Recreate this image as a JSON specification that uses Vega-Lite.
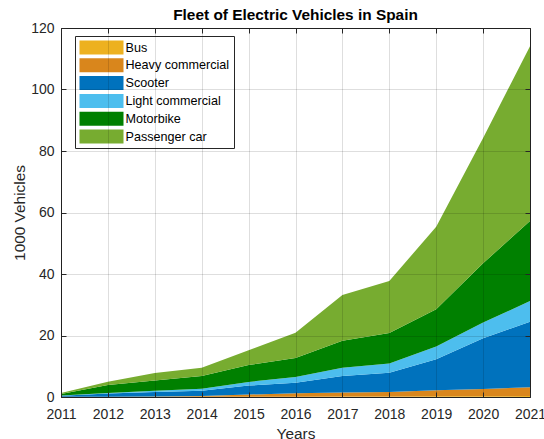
{
  "$schema": "https://vega.github.io/schema/vega-lite/v6.json",
  "width": 469,
  "height": 369,
  "autosize": "none",
  "padding": {"left": 61, "top": 28, "right": 14, "bottom": 42},
  "background": "white",
  "title": {"text": "Fleet of Electric Vehicles in Spain", "font": "Liberation Sans", "fontSize": 15.4, "fontWeight": "bold", "color": "#000000", "offset": -17, "baseline": "bottom"},
  "config": {
    "view": {"stroke": "#262626", "strokeWidth": 1},
    "font": "Liberation Sans"
  },
  "data": {"values": [
    {"year": 2011, "type": "Bus", "v": 0.02}, {"year": 2012, "type": "Bus", "v": 0.03}, {"year": 2013, "type": "Bus", "v": 0.05}, {"year": 2014, "type": "Bus", "v": 0.07}, {"year": 2015, "type": "Bus", "v": 0.1}, {"year": 2016, "type": "Bus", "v": 0.12}, {"year": 2017, "type": "Bus", "v": 0.15}, {"year": 2018, "type": "Bus", "v": 0.18}, {"year": 2019, "type": "Bus", "v": 0.22}, {"year": 2020, "type": "Bus", "v": 0.26}, {"year": 2021, "type": "Bus", "v": 0.3},
    {"year": 2011, "type": "Heavy commercial", "v": 0.03}, {"year": 2012, "type": "Heavy commercial", "v": 0.07}, {"year": 2013, "type": "Heavy commercial", "v": 0.1}, {"year": 2014, "type": "Heavy commercial", "v": 0.23}, {"year": 2015, "type": "Heavy commercial", "v": 0.7}, {"year": 2016, "type": "Heavy commercial", "v": 1.08}, {"year": 2017, "type": "Heavy commercial", "v": 1.35}, {"year": 2018, "type": "Heavy commercial", "v": 1.42}, {"year": 2019, "type": "Heavy commercial", "v": 1.98}, {"year": 2020, "type": "Heavy commercial", "v": 2.34}, {"year": 2021, "type": "Heavy commercial", "v": 2.9},
    {"year": 2011, "type": "Scooter", "v": 0.35}, {"year": 2012, "type": "Scooter", "v": 1.0}, {"year": 2013, "type": "Scooter", "v": 1.45}, {"year": 2014, "type": "Scooter", "v": 1.7}, {"year": 2015, "type": "Scooter", "v": 2.9}, {"year": 2016, "type": "Scooter", "v": 3.4}, {"year": 2017, "type": "Scooter", "v": 5.3}, {"year": 2018, "type": "Scooter", "v": 6.3}, {"year": 2019, "type": "Scooter", "v": 10.1}, {"year": 2020, "type": "Scooter", "v": 16.5}, {"year": 2021, "type": "Scooter", "v": 21.3},
    {"year": 2011, "type": "Light commercial", "v": 0.1}, {"year": 2012, "type": "Light commercial", "v": 0.2}, {"year": 2013, "type": "Light commercial", "v": 0.4}, {"year": 2014, "type": "Light commercial", "v": 0.7}, {"year": 2015, "type": "Light commercial", "v": 1.2}, {"year": 2016, "type": "Light commercial", "v": 1.9}, {"year": 2017, "type": "Light commercial", "v": 2.7}, {"year": 2018, "type": "Light commercial", "v": 3.0}, {"year": 2019, "type": "Light commercial", "v": 4.1}, {"year": 2020, "type": "Light commercial", "v": 5.1}, {"year": 2021, "type": "Light commercial", "v": 6.7},
    {"year": 2011, "type": "Motorbike", "v": 0.5}, {"year": 2012, "type": "Motorbike", "v": 2.6}, {"year": 2013, "type": "Motorbike", "v": 3.4}, {"year": 2014, "type": "Motorbike", "v": 4.1}, {"year": 2015, "type": "Motorbike", "v": 5.5}, {"year": 2016, "type": "Motorbike", "v": 6.2}, {"year": 2017, "type": "Motorbike", "v": 8.8}, {"year": 2018, "type": "Motorbike", "v": 9.9}, {"year": 2019, "type": "Motorbike", "v": 12.1}, {"year": 2020, "type": "Motorbike", "v": 19.3}, {"year": 2021, "type": "Motorbike", "v": 26.0},
    {"year": 2011, "type": "Passenger car", "v": 0.3}, {"year": 2012, "type": "Passenger car", "v": 1.1}, {"year": 2013, "type": "Passenger car", "v": 2.4}, {"year": 2014, "type": "Passenger car", "v": 2.7}, {"year": 2015, "type": "Passenger car", "v": 4.8}, {"year": 2016, "type": "Passenger car", "v": 8.2}, {"year": 2017, "type": "Passenger car", "v": 14.9}, {"year": 2018, "type": "Passenger car", "v": 16.9}, {"year": 2019, "type": "Passenger car", "v": 26.9}, {"year": 2020, "type": "Passenger car", "v": 40.7}, {"year": 2021, "type": "Passenger car", "v": 56.9}
  ]},
  "transform": [
    {"calculate": "indexof(['Bus','Heavy commercial','Scooter','Light commercial','Motorbike','Passenger car'], datum.type)", "as": "k"}
  ],
  "layer": [
    {
      "mark": {"type": "area", "opacity": 1},
      "encoding": {
        "x": {"field": "year", "type": "quantitative", "scale": {"domain": [2011, 2021], "nice": false, "zero": false},
          "axis": {"orient": "bottom", "title": "Years", "format": "d", "values": [2011,2012,2013,2014,2015,2016,2017,2018,2019,2020,2021], "grid": true, "gridColor": "#000000", "gridOpacity": 0.13, "domain": false, "tickColor": "#262626", "tickSize": -5, "labelPadding": 15, "labelFontSize": 14, "labelColor": "#262626", "titleFontSize": 15.4, "titleFontWeight": "normal", "titleColor": "#262626", "titlePadding": 5, "zindex": 1, "labelFlush": false, "labelOverlap": false}},
        "y": {"field": "v", "type": "quantitative", "stack": "zero", "scale": {"domain": [0, 120], "nice": false},
          "axis": {"orient": "left", "title": "1000 Vehicles", "values": [0,20,40,60,80,100,120], "grid": true, "gridColor": "#000000", "gridOpacity": 0.13, "domain": false, "tickColor": "#262626", "tickSize": -5, "labelPadding": 12, "labelFontSize": 14, "labelColor": "#262626", "titleFontSize": 15.4, "titleFontWeight": "normal", "titleColor": "#262626", "titlePadding": 3, "zindex": 1, "labelOverlap": false}},
        "color": {"field": "type", "type": "nominal",
          "scale": {"domain": ["Bus","Heavy commercial","Scooter","Light commercial","Motorbike","Passenger car"], "range": ["#EDB120","#D9861C","#0072BD","#4DBEEE","#008000","#77AC30"]},
          "legend": {"title": null, "orient": "none", "legendX": 14, "legendY": 8, "symbolType": "M-1,-1L5.286,-1L5.286,1L-1,1Z", "symbolSize": 196, "symbolStrokeWidth": 0, "symbolOpacity": 1, "labelFontSize": 12.6, "labelColor": "#000000", "rowPadding": 3.8, "padding": 4.5, "strokeColor": "#262626", "fillColor": "white", "labelOffset": 32, "labelLimit": 250}},
        "order": {"field": "k", "type": "quantitative"}
      }
    },
    {
      "mark": {"type": "point", "opacity": 0},
      "encoding": {
        "x": {"field": "year", "type": "quantitative", "scale": {"domain": [2011, 2021], "nice": false, "zero": false},
          "axis": {"orient": "top", "title": null, "labels": false, "values": [2011,2012,2013,2014,2015,2016,2017,2018,2019,2020,2021], "grid": false, "domain": false, "tickColor": "#262626", "tickSize": -5, "zindex": 1}},
        "y": {"field": "v", "type": "quantitative", "scale": {"domain": [0, 120], "nice": false},
          "axis": {"orient": "right", "title": null, "labels": false, "values": [0,20,40,60,80,100,120], "grid": false, "domain": false, "tickColor": "#262626", "tickSize": -5, "zindex": 1}}
      }
    }
  ],
  "resolve": {"scale": {"x": "independent", "y": "independent"}}
}
